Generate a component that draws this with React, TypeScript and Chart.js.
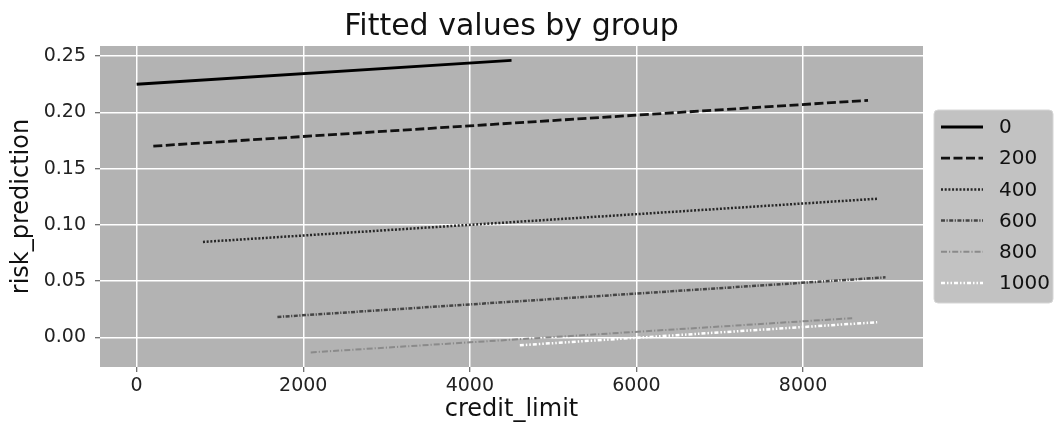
import React, { useEffect, useRef } from "react";
import { Chart, registerables } from "chart.js";

Chart.register(...registerables);

// ---- data ----
const groups = ["0", "200", "400", "600", "800", "1000"];
const startX = [0, 200, 796, 1690, 2090, 4600];
const endX = [4500, 8780, 8890, 8990, 8590, 8890];
const startY = [0.225, 0.170, 0.0848, 0.0181, -0.0134, -0.0071];
const endY = [0.2462, 0.2107, 0.1232, 0.0533, 0.0170, 0.0134];
const xTicks = [0, 2000, 4000, 6000, 8000];
const yTicks = [0, 0.05, 0.1, 0.15, 0.2, 0.25];

// ---- styles ----
const lineColors = ["#000000", "#111111", "#262626", "#454545", "#8a8a8a", "#ffffff"];
const lineDashes = [[], [9, 3.5], [2, 1.7], [4, 1.5, 1.2, 1.5], [6, 2, 1.2, 2], [4, 2, 1.5, 2, 1.5, 2]];
const lineWidths = [2.8, 2.8, 2.5, 2.5, 2, 2.5];
const FONT = "'DejaVu Sans', sans-serif";

const bgPlugin = {
  id: "plotBg",
  beforeDraw(chart: any) {
    const { ctx, chartArea } = chart;
    ctx.save();
    ctx.fillStyle = "#b3b3b3";
    ctx.fillRect(chartArea.left, chartArea.top, chartArea.right - chartArea.left, chartArea.bottom - chartArea.top);
    ctx.restore();
  },
};

const legendPlugin = {
  id: "mplLegend",
  afterDraw(chart: any) {
    const ctx = chart.ctx;
    const x = 934, y = 110, w = 119, h = 193, r = 4;
    ctx.save();
    ctx.beginPath();
    ctx.moveTo(x + r, y);
    ctx.lineTo(x + w - r, y);
    ctx.quadraticCurveTo(x + w, y, x + w, y + r);
    ctx.lineTo(x + w, y + h - r);
    ctx.quadraticCurveTo(x + w, y + h, x + w - r, y + h);
    ctx.lineTo(x + r, y + h);
    ctx.quadraticCurveTo(x, y + h, x, y + h - r);
    ctx.lineTo(x, y + r);
    ctx.quadraticCurveTo(x, y, x + r, y);
    ctx.closePath();
    ctx.fillStyle = "#c2c2c2";
    ctx.fill();
    ctx.strokeStyle = "#d6d6d6";
    ctx.lineWidth = 1;
    ctx.stroke();
    chart.data.datasets.forEach((ds: any, i: number) => {
      const cy = 127 + i * 31.2;
      ctx.beginPath();
      ctx.setLineDash(ds.borderDash || []);
      ctx.strokeStyle = ds.borderColor;
      ctx.lineWidth = ds.borderWidth;
      ctx.moveTo(941, cy);
      ctx.lineTo(983, cy);
      ctx.stroke();
      ctx.setLineDash([]);
      ctx.fillStyle = "#111111";
      ctx.font = `20px ${FONT}`;
      ctx.textAlign = "left";
      ctx.textBaseline = "middle";
      ctx.fillText(ds.label, 999, cy + 1);
    });
    ctx.restore();
  },
};

export default function App() {
  const canvasRef = useRef<HTMLCanvasElement | null>(null);

  useEffect(() => {
    if (!canvasRef.current) return;
    const datasets = groups.map((g, i) => ({
      label: g,
      data: [
        { x: startX[i], y: startY[i] },
        { x: endX[i], y: endY[i] },
      ],
      borderColor: lineColors[i],
      backgroundColor: lineColors[i],
      borderDash: lineDashes[i],
      borderWidth: lineWidths[i],
      pointRadius: 0,
      fill: false,
      tension: 0,
    }));
    const chart = new Chart(canvasRef.current, {
      type: "line",
      data: { datasets },
      options: {
        animation: false,
        responsive: false,
        devicePixelRatio: 1,
        layout: { padding: { left: 0, top: 0, right: 132, bottom: 0 } },
        plugins: {
          legend: { display: false },
          tooltip: { enabled: false },
          title: {
            display: true,
            fullSize: false,
            text: "Fitted values by group",
            color: "#111111",
            font: { family: FONT, size: 30, weight: "normal" as any, lineHeight: 1.2 },
            padding: { top: 9, bottom: 1 },
          },
        },
        scales: {
          x: {
            type: "linear",
            min: -440,
            max: 9440,
            afterBuildTicks: (axis: any) => {
              axis.ticks = xTicks.map((v) => ({ value: v }));
            },
            afterFit: (scale: any) => {
              scale.height = 63;
            },
            grid: {
              color: "#ffffff",
              lineWidth: 1.5,
              drawTicks: true,
              tickLength: 5,
              tickColor: "#444444",
              tickWidth: 1,
            },
            border: { display: false },
            ticks: {
              color: "#222222",
              font: { family: FONT, size: 19 },
              padding: 3,
              maxRotation: 0,
              autoSkip: false,
              callback: (v: any) => String(v),
            },
            title: {
              display: true,
              text: "credit_limit",
              color: "#111111",
              font: { family: FONT, size: 24, lineHeight: 1.2 },
              padding: { top: 0, bottom: 6 },
            },
          },
          y: {
            type: "linear",
            min: -0.0264,
            max: 0.259,
            afterBuildTicks: (axis: any) => {
              axis.ticks = yTicks.map((v) => ({ value: v }));
            },
            afterFit: (scale: any) => {
              scale.width = 100;
            },
            grid: {
              color: "#ffffff",
              lineWidth: 1.5,
              drawTicks: true,
              tickLength: 5,
              tickColor: "#444444",
              tickWidth: 1,
            },
            border: { display: false },
            ticks: {
              color: "#222222",
              font: { family: FONT, size: 19 },
              padding: 9,
              autoSkip: false,
              callback: (v: any) => Number(v).toFixed(2),
            },
            title: {
              display: true,
              text: "risk_prediction",
              color: "#111111",
              font: { family: FONT, size: 24, lineHeight: 1.2 },
              padding: { top: 7.6, bottom: 0 },
            },
          },
        },
      },
      plugins: [bgPlugin, legendPlugin],
    });
    return () => chart.destroy();
  }, []);

  return (
    <div style={{ position: "fixed", left: 0, top: 0, width: 1055, height: 430, background: "#ffffff" }}>
      <canvas ref={canvasRef} width={1055} height={430} style={{ width: 1055, height: 430, display: "block" }} />
    </div>
  );
}
